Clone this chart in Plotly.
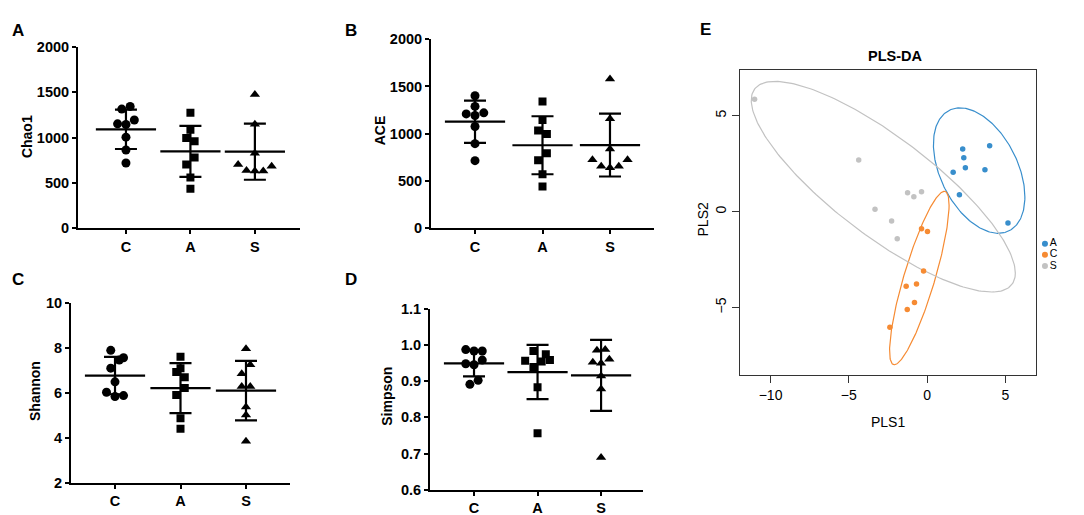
import numpy as np
import plotly.graph_objects as go

# ---- alpha diversity values (group order C, A, S) ----
groups = ["C", "A", "S"]
symbols = ["circle", "square", "triangle-up"]

chao1 = [
    [1315, 1344, 1152, 1144, 1194, 1005, 863, 720],
    [1273, 1088, 995, 959, 781, 702, 560, 435],
    [1476, 1148, 827, 702, 638, 631, 631, 684],
]
chao1_mean = [1091, 848, 845]
chao1_sd = [217, 282, 310]

ace = [
    [1402, 1289, 1210, 1193, 1221, 1077, 895, 715],
    [1340, 1146, 1033, 998, 793, 718, 571, 441],
    [1579, 1159, 838, 725, 656, 639, 656, 725],
]
ace_mean = [1127, 878, 880]
ace_sd = [224, 307, 333]

shannon = [
    [7.89, 7.56, 7.46, 7.10, 6.49, 6.03, 5.84, 5.88],
    [7.60, 7.10, 6.93, 6.70, 6.22, 5.91, 4.88, 4.41],
    [7.96, 7.25, 6.85, 6.29, 6.29, 5.38, 5.02, 3.85],
]
shannon_mean = [6.77, 6.21, 6.10]
shannon_sd = [0.83, 1.11, 1.32]

simpson = [
    [0.987, 0.983, 0.983, 0.948, 0.945, 0.958, 0.891, 0.902],
    [0.983, 0.956, 0.974, 0.958, 0.954, 0.939, 0.883, 0.756],
    [0.985, 0.987, 0.952, 0.949, 0.960, 0.914, 0.878, 0.689],
]
simpson_mean = [0.949, 0.925, 0.916]
simpson_sd = [0.036, 0.075, 0.098]

# horizontal spread of the points (in marker steps), as drawn by Prism
chao1_spread = [[-0.5, 0.5, -1, 0, 1, 0, 0, 0], [0, 0, -0.5, 0.5, 0.5, -0.5, 0, 0], [0, 0, 0, -2, -1, 0, 1, 2]]
ace_spread = [[0, 0, -1, 0, 1, 0, 0, 0], [0, 0, -0.5, 0.5, 0.5, -0.5, 0, 0], [0, 0, 0, -2, -1, 0, 1, 2]]
shannon_spread = [[-0.5, 1, 0.5, -0.5, 0, -1, 0, 1], [0, 0, -0.5, 0.5, 0.5, -0.5, 0, 0], [0, 0.5, -0.5, -0.5, 0.5, 0, 0, 0]]
simpson_spread = [[-1, 0, 1, -1, 0, 1, -0.5, 0.5], [-0.5, -1.5, 1, 1.5, 0.5, -0.5, 0, 0], [-0.5, 0.5, -1, 0, 1, 0, 0, 0]]

# ---- PLS-DA scores ----
pls_groups = ["A", "C", "S"]
pls_colors = ["#388ECC", "#F68B33", "#C2C2C2"]
pls1 = [
    [2.27, 3.99, 2.34, 2.44, 1.66, 3.69, 2.06, 5.16],
    [-0.36, 0.02, -0.23, -1.34, -0.68, -0.81, -1.27, -2.38],
    [-11.02, -4.37, -1.25, -0.85, -0.36, -3.33, -2.27, -1.91],
]
pls2 = [
    [3.27, 3.43, 2.81, 2.29, 2.05, 2.19, 0.88, -0.59],
    [-0.89, -1.03, -3.10, -3.89, -3.77, -4.73, -5.10, -6.03],
    [5.86, 2.69, 0.99, 0.77, 1.04, 0.12, -0.49, -1.41],
]
# confidence ellipses: centre, half extents and correlation
ell_cx = [3.32, -0.50, -2.80]
ell_cy = [2.14, -3.46, 1.30]
ell_sx = [2.92, 1.90, 8.43]
ell_sy = [3.27, 4.52, 5.49]
ell_rho = [-0.42, 0.84, -0.82]

W, H = 1084, 515
FONT = "Liberation Sans, Arial, sans-serif"
STEP = 0.13


def px(x):
    return x / W


def py(y):
    return 1 - y / H


fig = go.Figure()


def dot_panel(n, values, spread, means, sds, xdom, ydom, xr, yr, tickvals, tickfmt):
    xa, ya = ("x%d" % n).replace("x1", "x"), ("y%d" % n).replace("y1", "y")
    for i, g in enumerate(groups):
        fig.add_trace(go.Scatter(
            x=[i + STEP * s for s in spread[i]], y=values[i], mode="markers",
            marker=dict(symbol=symbols[i], size=9 if i != 1 else 8, color="black"),
            xaxis=xa, yaxis=ya, showlegend=False))
    fig.add_trace(go.Scatter(
        x=[0, 1, 2], y=means, mode="markers",
        marker=dict(symbol="line-ew", size=43, line=dict(width=2.2, color="black")),
        error_y=dict(type="data", array=sds, width=11, thickness=2.2, color="black"),
        xaxis=xa, yaxis=ya, showlegend=False))
    suffix = "" if n == 1 else str(n)
    fig.layout["xaxis" + suffix] = dict(
        domain=xdom, range=xr, anchor=ya, tickvals=[0, 1, 2], ticktext=groups,
        showline=True, linecolor="black", linewidth=2, ticks="outside", ticklen=4,
        tickwidth=2, tickcolor="black", showgrid=False, zeroline=False,
        tickfont=dict(family=FONT, size=14.5, color="black", weight="bold"))
    fig.layout["yaxis" + suffix] = dict(
        domain=ydom, range=yr, anchor=xa, tickvals=tickvals, tickformat=tickfmt,
        showline=True, linecolor="black", linewidth=2, ticks="outside", ticklen=4,
        tickwidth=2, tickcolor="black", showgrid=False, zeroline=False,
        tickfont=dict(family=FONT, size=14.5, color="black", weight="bold"))


dot_panel(1, chao1, chao1_spread, chao1_mean, chao1_sd,
          [px(70), px(292)], [py(219), py(32)], [-0.744, 2.70], [0, 2000],
          [0, 500, 1000, 1500, 2000], "d")
dot_panel(2, ace, ace_spread, ace_mean, ace_sd,
          [px(423), px(646)], [py(219), py(24)], [-0.652, 2.652], [0, 2000],
          [0, 500, 1000, 1500, 2000], "d")
dot_panel(3, shannon, shannon_spread, shannon_mean, shannon_sd,
          [px(63), px(282)], [py(482), py(296)], [-0.672, 2.672], [2, 10],
          [2, 4, 6, 8, 10], "d")
dot_panel(4, simpson, simpson_spread, simpson_mean, simpson_sd,
          [px(422), px(635)], [py(489), py(302)], [-0.693, 2.66], [0.6, 1.1],
          [0.6, 0.7, 0.8, 0.9, 1.0, 1.1], ".1f")

# ---- PLS-DA panel ----
t = np.linspace(0, 2 * np.pi, 240)
for k, g in enumerate(pls_groups):
    ex = ell_cx[k] + ell_sx[k] * np.cos(t)
    ey = ell_cy[k] + ell_sy[k] * (ell_rho[k] * np.cos(t) + np.sqrt(1 - ell_rho[k] ** 2) * np.sin(t))
    fig.add_trace(go.Scatter(x=ex, y=ey, mode="lines", line=dict(color=pls_colors[k], width=1.2),
                             xaxis="x5", yaxis="y5", showlegend=False, hoverinfo="skip"))
for k, g in enumerate(pls_groups):
    fig.add_trace(go.Scatter(x=pls1[k], y=pls2[k], mode="markers", name=g,
                             marker=dict(color=pls_colors[k], size=5.5),
                             xaxis="x5", yaxis="y5", showlegend=False))

ax_e = dict(showline=True, mirror=True, linecolor="#333333", linewidth=1, ticks="outside",
            ticklen=7, tickcolor="#333333", showgrid=False, zeroline=False,
            tickfont=dict(family=FONT, size=14, color="black"))
fig.layout["xaxis5"] = dict(ax_e, domain=[px(732), px(1028)], range=[-11.95, 6.95], anchor="y5",
                            tickvals=[-10, -5, 0, 5])
fig.layout["yaxis5"] = dict(ax_e, domain=[py(371), py(56)], range=[-8.54, 7.37], anchor="x5",
                            tickvals=[-5, 0, 5], tickangle=-90)

# legend of panel E, drawn on a small hidden axis
fig.add_trace(go.Scatter(x=[0.16] * 3, y=pls_groups, mode="markers+text", text=pls_groups,
                         textposition="middle right",
                         textfont=dict(family=FONT, size=10.5, color="black"),
                         marker=dict(color=pls_colors, size=6),
                         xaxis="x6", yaxis="y6", showlegend=False, hoverinfo="skip"))
fig.layout["xaxis6"] = dict(domain=[px(1028), 1.0], range=[0, 1], visible=False, anchor="y6")
fig.layout["yaxis6"] = dict(domain=[py(270), py(223)], range=[3.04, -1.04], visible=False,
                            anchor="x6", type="category")

# ---- text: panel letters, axis titles, title ----
ann = []
for letter, x, y in [("A", 10, 15), ("B", 343, 15), ("C", 10, 272), ("D", 343, 272), ("E", 697, 14)]:
    ann.append(dict(text=letter, x=px(x), y=py(y), font=dict(family=FONT, size=17, weight="bold")))
for label, x, y in [("Chao1", 19, 125), ("ACE", 372, 118), ("Shannon", 27, 387), ("Simpson", 379, 393)]:
    ann.append(dict(text=label, x=px(x), y=py(y), textangle=-90,
                    font=dict(family=FONT, size=14, weight="bold")))
ann.append(dict(text="PLS1", x=px(880), y=py(419), font=dict(family=FONT, size=14)))
ann.append(dict(text="PLS2", x=px(695), y=py(210), textangle=-90, font=dict(family=FONT, size=14)))
ann.append(dict(text="PLS-DA", x=px(887), y=py(41), font=dict(family=FONT, size=14.5, weight="bold")))
for a in ann:
    a.update(xref="paper", yref="paper", showarrow=False, xanchor="center", yanchor="middle")
    a["font"]["color"] = "black"

fig.update_layout(width=W, height=H, margin=dict(l=0, r=0, t=0, b=0),
                  paper_bgcolor="white", plot_bgcolor="white", annotations=ann,
                  font=dict(family=FONT, color="black"))

fig.write_html("out.html")
